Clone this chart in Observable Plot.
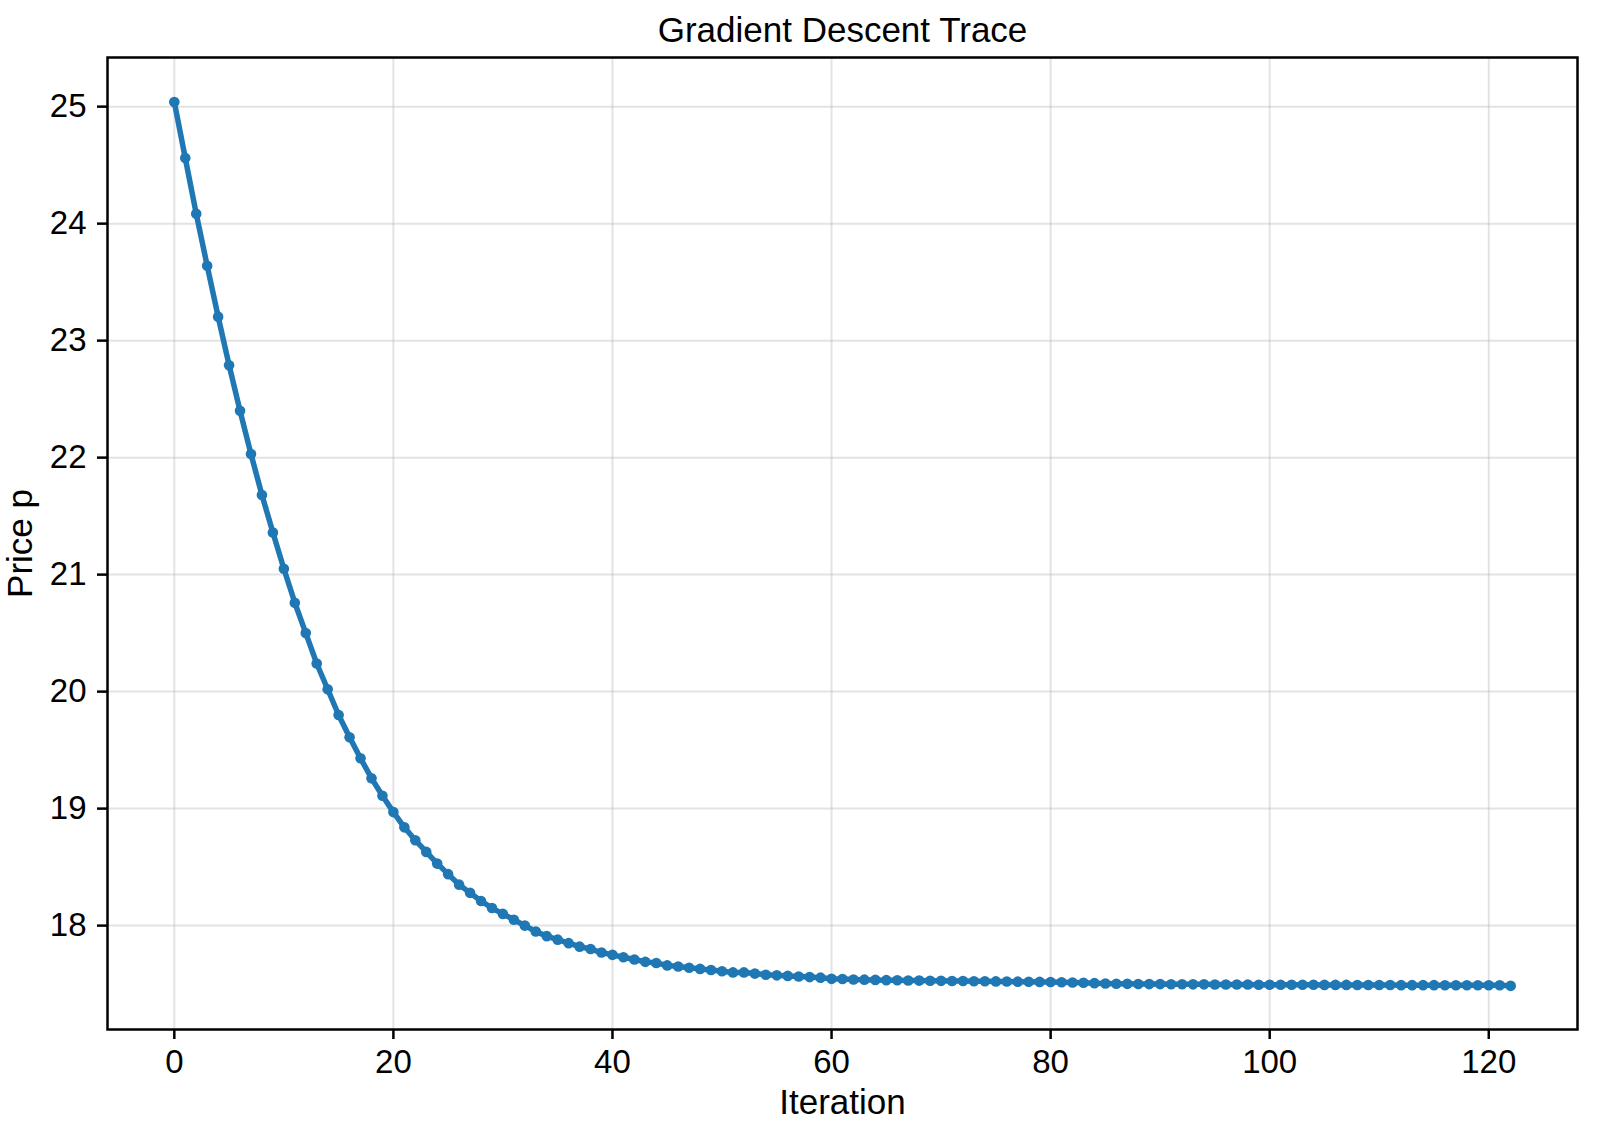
<!DOCTYPE html>
<html>
<head>
<meta charset="utf-8">
<script src="https://cdn.jsdelivr.net/npm/d3@7"></script>
<script src="https://cdn.jsdelivr.net/npm/@observablehq/plot@0.6"></script>
<style>
  html, body { margin: 0; padding: 0; background: #fff; }
  #chart svg { display: block; }
</style>
</head>
<body>
<div id="chart"></div>
<script>
const title = "Gradient Descent Trace";
const xLabel = "Iteration";
const yLabel = "Price p";
const xTicks = [0, 20, 40, 60, 80, 100, 120];
const yTicks = [18, 19, 20, 21, 22, 23, 24, 25];

// Price p at each iteration 0..122
const price = [
  25.04, 24.56, 24.085, 23.64, 23.205, 22.79, 22.40, 22.03, 21.68, 21.36,
  21.05, 20.76, 20.50, 20.24, 20.02, 19.80, 19.61, 19.43, 19.26, 19.11,
  18.97, 18.84, 18.73, 18.63, 18.53, 18.44, 18.35, 18.28, 18.21, 18.15,
  18.10, 18.05, 18.00, 17.95, 17.91, 17.88, 17.85, 17.82, 17.80, 17.77,
  17.75, 17.73, 17.71, 17.69, 17.68, 17.66, 17.65, 17.64, 17.63, 17.62,
  17.61, 17.60, 17.60, 17.59, 17.58, 17.575, 17.57, 17.565, 17.56, 17.555,
  17.545, 17.543, 17.54, 17.538, 17.536, 17.534, 17.533, 17.531, 17.53, 17.529,
  17.528, 17.527, 17.526, 17.525, 17.524, 17.523, 17.522, 17.521, 17.52, 17.519,
  17.518, 17.516, 17.514, 17.511, 17.508, 17.505, 17.503, 17.502, 17.501, 17.50,
  17.50, 17.499, 17.499, 17.498, 17.498, 17.497, 17.497, 17.496, 17.496, 17.495,
  17.495, 17.495, 17.494, 17.494, 17.494, 17.493, 17.493, 17.493, 17.492, 17.492,
  17.492, 17.492, 17.491, 17.491, 17.491, 17.491, 17.49, 17.49, 17.49, 17.49,
  17.49, 17.49, 17.485
];

const data = price.map((p, i) => ({iteration: i, price: p}));

const font = "'Liberation Sans', Arial, Helvetica, sans-serif";
const blue = "#1f77b4";

const chart = Plot.plot({
  width: 1600,
  height: 1128,
  marginTop: 57,
  marginBottom: 99,
  marginLeft: 107,
  marginRight: 23,
  style: {fontFamily: font, fontSize: "33px", color: "#000", background: "#fff"},
  x: {domain: [-6.1, 128.1], ticks: xTicks},
  y: {domain: [17.112, 25.42], ticks: yTicks},
  marks: [
    Plot.gridX(xTicks, {stroke: "#b0b0b0", strokeOpacity: 0.35, strokeWidth: 2}),
    Plot.gridY(yTicks, {stroke: "#b0b0b0", strokeOpacity: 0.35, strokeWidth: 2}),
    Plot.axisX(xTicks, {tickSize: 10, tickPadding: 10, fontSize: 33, strokeWidth: 2.5, label: null, tickFormat: d => String(d)}),
    Plot.axisY(yTicks, {tickSize: 10, tickPadding: 11, fontSize: 33, strokeWidth: 2.5, label: null, tickFormat: d => String(d)}),
    Plot.line(data, {x: "iteration", y: "price", stroke: blue, strokeWidth: 5.5}),
    Plot.dot(data, {x: "iteration", y: "price", fill: blue, r: 5.3}),
    Plot.frame({stroke: "#000", strokeWidth: 2.5}),
    Plot.text([title], {text: d => d, frameAnchor: "top", lineAnchor: "middle", textAnchor: "middle", dy: -27, fontSize: 35, fill: "#000"}),
    Plot.text([xLabel], {text: d => d, frameAnchor: "bottom", lineAnchor: "middle", textAnchor: "middle", dy: 73, fontSize: 35, fill: "#000"}),
    Plot.text([yLabel], {text: d => d, frameAnchor: "left", lineAnchor: "middle", textAnchor: "middle", rotate: -90, dx: -87, fontSize: 35, fill: "#000"})
  ]
});

document.getElementById("chart").appendChild(chart);
</script>
</body>
</html>
